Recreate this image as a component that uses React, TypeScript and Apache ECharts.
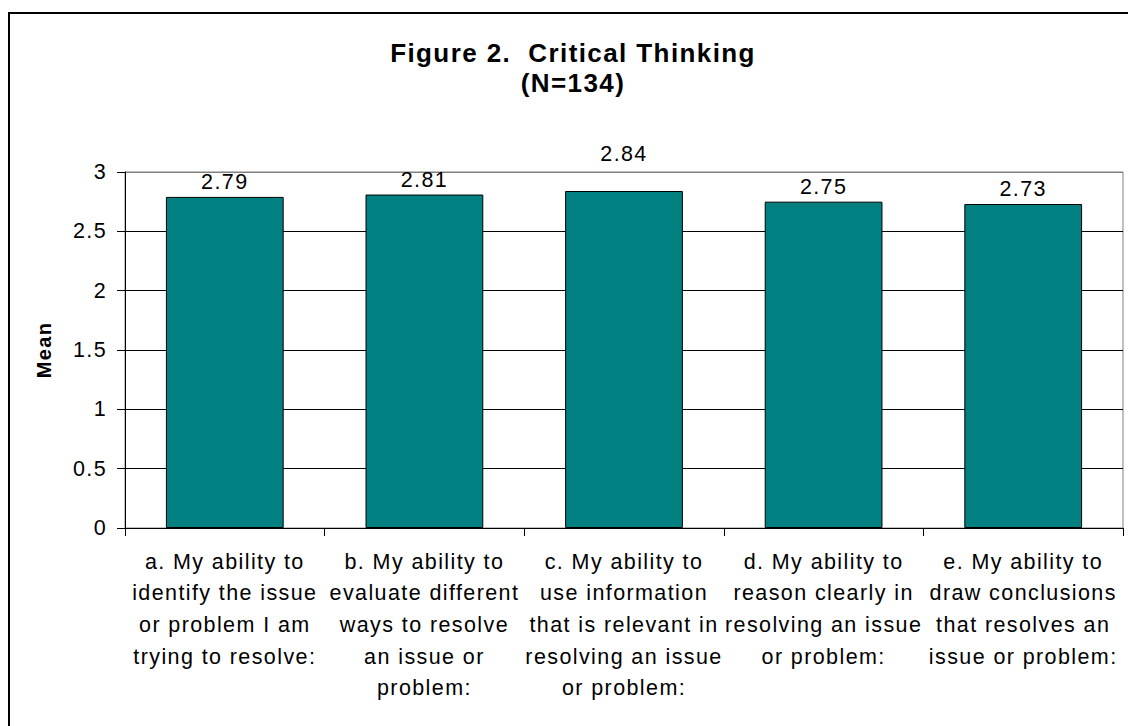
import React, { useEffect, useRef } from "react";
import * as echarts from "echarts";

const titleLines = ["Figure 2.  Critical Thinking", "(N=134)"];
const yAxisName = "Mean";
const categories = [
  "a. My ability to\nidentify the issue\nor problem I am\ntrying to resolve:",
  "b. My ability to\nevaluate different\nways to resolve\nan issue or\nproblem:",
  "c. My ability to\nuse information\nthat is relevant in\nresolving an issue\nor problem:",
  "d. My ability to\nreason clearly in\nresolving an issue\nor problem:",
  "e. My ability to\ndraw conclusions\nthat resolves an\nissue or problem:",
];
const means = [2.79, 2.81, 2.84, 2.75, 2.73];
const yMin = 0;
const yMax = 3;
const yStep = 0.5;

const FONT = "'Liberation Sans', Arial, Helvetica, sans-serif";

export default function App() {
  const ref = useRef<HTMLDivElement>(null);

  useEffect(() => {
    if (!ref.current) return;
    const chart = echarts.init(ref.current, undefined, { renderer: "svg" });
    const nTicks = Math.round((yMax - yMin) / yStep) + 1;
    const splitColors = Array.from({ length: nTicks }, (_, i) =>
      i === nTicks - 1 ? "#808080" : "#000000"
    );
    chart.setOption({
      animation: false,
      backgroundColor: "#ffffff",
      textStyle: { fontFamily: FONT },
      title: {
        text: titleLines.join("\n"),
        left: 573,
        top: 38,
        padding: 0,
        textAlign: "center",
        textStyle: {
          fontFamily: FONT,
          fontSize: 26,
          fontWeight: "bold",
          lineHeight: 30,
          color: "#000",
        },
      },
      graphic: [
        {
          type: "rect",
          shape: { x: 9, y: 13, width: 1140, height: 730 },
          style: { fill: "none", stroke: "#000", lineWidth: 2 },
          silent: true,
          z: 100,
        },
      ],
      grid: {
        left: 125,
        top: 172,
        right: 5,
        bottom: 198,
        show: true,
        borderColor: "#808080",
        borderWidth: 1,
        containLabel: false,
      },
      xAxis: {
        type: "category",
        data: categories,
        axisLine: { show: true, lineStyle: { color: "#000", width: 1 } },
        axisTick: { show: true, length: 8, lineStyle: { color: "#000" } },
        axisLabel: {
          interval: 0,
          margin: 18,
          fontSize: 21.5,
          lineHeight: 31.6,
          color: "#000",
          fontFamily: FONT,
          align: "center",
        },
        splitLine: { show: false },
      },
      yAxis: {
        type: "value",
        min: yMin,
        max: yMax,
        interval: yStep,
        name: yAxisName,
        nameLocation: "middle",
        nameGap: 71,
        nameRotate: 90,
        nameTextStyle: {
          fontFamily: FONT,
          fontSize: 20,
          fontWeight: "bold",
          color: "#000",
        },
        axisLine: { show: true, lineStyle: { color: "#000", width: 1 } },
        axisTick: { show: true, length: 8, lineStyle: { color: "#000" } },
        axisLabel: {
          margin: 18,
          fontSize: 21.5,
          color: "#000",
          fontFamily: FONT,
        },
        splitLine: {
          show: true,
          lineStyle: { color: splitColors, width: 1 },
        },
      },
      series: [
        {
          type: "bar",
          data: means.map((v, i) =>
            i === 2 ? { value: v, label: { distance: 26 } } : v
          ),
          barWidth: "59%",
          itemStyle: { color: "#008080", borderColor: "#000", borderWidth: 1 },
          label: {
            show: true,
            position: "top",
            distance: 4,
            fontSize: 21.5,
            color: "#000",
            fontFamily: FONT,
            formatter: (p: any) => Number(p.value).toFixed(2),
          },
        },
      ],
    });
    return () => chart.dispose();
  }, []);

  return (
    <>
      <style>{`body{margin:0;} .chart-host text{letter-spacing:1.4px;}`}</style>
      <div
        ref={ref}
        className="chart-host"
        style={{ position: "fixed", left: 0, top: 0, width: 1128, height: 726 }}
      />
    </>
  );
}
